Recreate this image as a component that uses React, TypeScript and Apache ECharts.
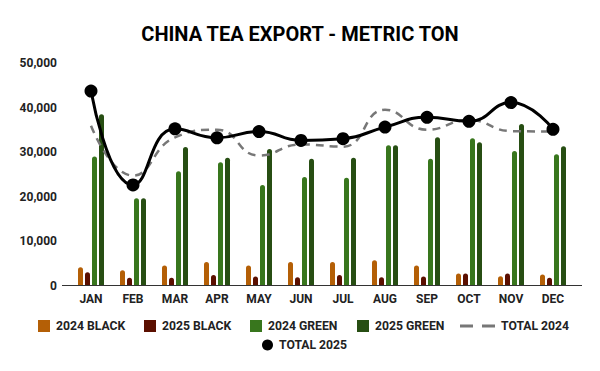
import React, { useEffect, useRef } from 'react';
import * as echarts from 'echarts';

const months = ['JAN', 'FEB', 'MAR', 'APR', 'MAY', 'JUN', 'JUL', 'AUG', 'SEP', 'OCT', 'NOV', 'DEC'];
const black2024 = [4100, 3400, 4500, 5300, 4500, 5300, 5300, 5700, 4500, 2700, 2100, 2500];
const black2025 = [2950, 1750, 1750, 2350, 2050, 1850, 2350, 1850, 2050, 2700, 2700, 1750];
const green2024 = [29000, 19600, 25700, 27700, 22600, 24400, 24200, 31500, 28500, 33100, 30200, 29500];
const green2025 = [38500, 19600, 31100, 28700, 30700, 28500, 28700, 31500, 33300, 32200, 36300, 31300];
const total2024 = [35900, 24700, 33300, 35000, 29200, 31700, 31200, 39500, 35000, 37200, 34700, 34600];
const total2025 = [43700, 22600, 35200, 33200, 34600, 32600, 33000, 35600, 37800, 36900, 41100, 35100];

const FONT = 'Roboto';
const TXT = '#222222';

export default function App() {
  const ref = useRef<HTMLDivElement>(null);
  useEffect(() => {
    if (!ref.current) return;
    const chart = echarts.init(ref.current, undefined, { renderer: 'svg' });
    const legendText = { fontFamily: FONT, fontWeight: 'bold', fontSize: 12.2, color: TXT, padding: [0, 0, 0, 1] };
    const barLegend = (name: string, left: number) => ({
      data: [name], left, top: 315, icon: 'rect', itemWidth: 12, itemHeight: 12, textStyle: legendText,
    });
    const bar = (name: string, data: number[], color: string) => ({
      name, type: 'bar', data, barWidth: 5, barGap: '40%',
      itemStyle: { color, borderRadius: [2.5, 2.5, 0, 0] },
    });
    chart.setOption({
      animation: false,
      backgroundColor: '#ffffff',
      title: {
        text: 'CHINA TEA EXPORT - METRIC TON', left: 'center', top: 19,
        textStyle: { fontFamily: FONT, fontWeight: 'bold', fontSize: 20, color: '#000' },
      },
      legend: [
        barLegend('2024 BLACK', 33),
        barLegend('2025 BLACK', 139),
        barLegend('2024 GREEN', 245),
        barLegend('2025 GREEN', 352),
        {
          data: [{ name: 'TOTAL 2024', icon: 'path://M0 0h13v3h-13z M22 0h13v3h-13z' }],
          left: 455, top: 315, itemWidth: 35, itemHeight: 12, textStyle: legendText,
        },
        {
          data: [{ name: 'TOTAL 2025', icon: 'circle' }], left: 257, top: 334, itemWidth: 11, itemHeight: 11,
          textStyle: legendText,
        },
      ],
      grid: { left: 70, right: 26, top: 63, bottom: 85.5 },
      xAxis: {
        type: 'category', data: months,
        axisLine: { show: false }, axisTick: { show: false },
        axisLabel: { fontFamily: FONT, fontWeight: 'bold', fontSize: 12, color: TXT, margin: 7 },
      },
      yAxis: {
        type: 'value', min: 0, max: 50000, interval: 10000,
        splitLine: { show: false }, axisLine: { show: false }, axisTick: { show: false },
        axisLabel: {
          fontFamily: FONT, fontWeight: 'bold', fontSize: 12, color: TXT, margin: 13,
          formatter: (v: number) => v.toLocaleString('en-US'),
        },
      },
      graphic: [
        { type: 'line', shape: { x1: 62, y1: 285.5, x2: 582, y2: 285.5 }, style: { stroke: '#333333', lineWidth: 1 }, z: 10 },
      ],
      series: [
        bar('2024 BLACK', black2024, '#b45f06'),
        bar('2025 BLACK', black2025, '#5b0f00'),
        bar('2024 GREEN', green2024, '#38761d'),
        bar('2025 GREEN', green2025, '#274e13'),
        {
          name: 'TOTAL 2024', type: 'line', data: total2024, smooth: 0.5, symbol: 'none',
          lineStyle: { color: '#777777', width: 2.5, type: [8, 6] }, itemStyle: { color: '#777777' }, z: 3,
        },
        {
          name: 'TOTAL 2025', type: 'line', data: total2025, smooth: 0.5, symbol: 'circle', symbolSize: 13,
          lineStyle: { color: '#000000', width: 3 }, itemStyle: { color: '#000000' }, z: 4,
        },
      ],
    });
    return () => chart.dispose();
  }, []);
  return <div ref={ref} style={{ position: 'fixed', left: 0, top: 0, width: 600, height: 371 }} />;
}
